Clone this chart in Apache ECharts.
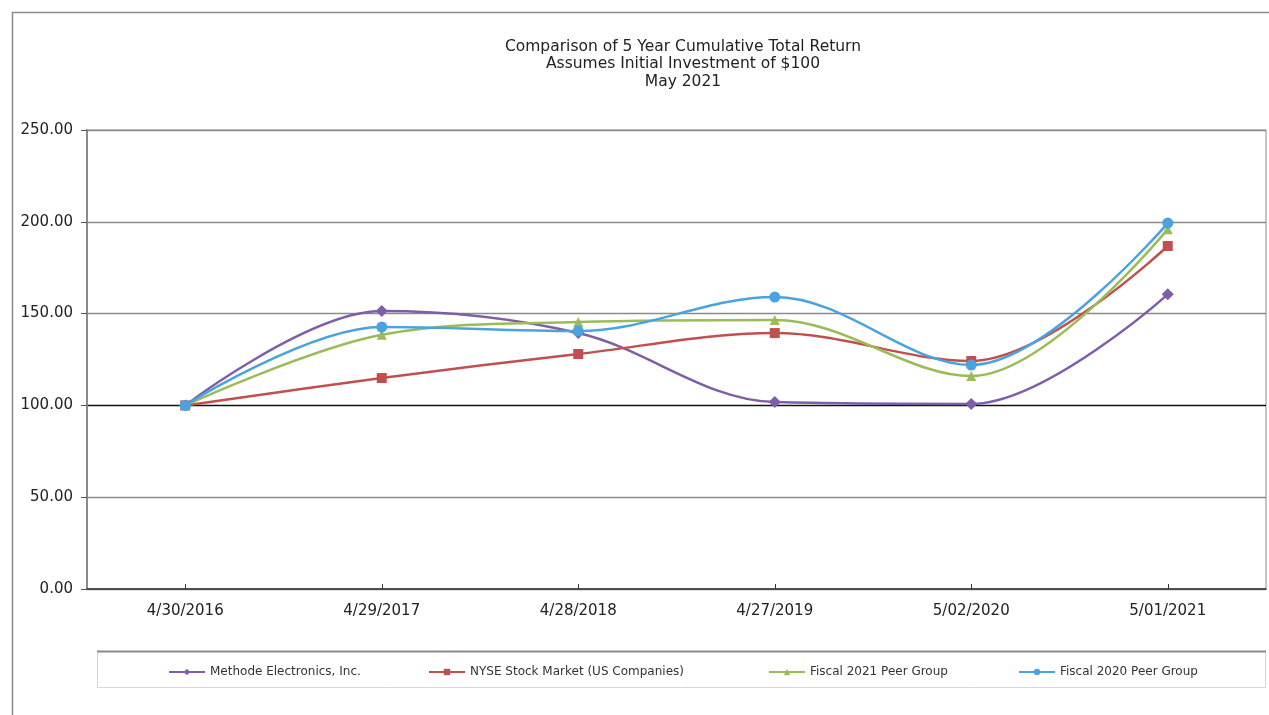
<!DOCTYPE html>
<html><head><meta charset="utf-8">
<script src="https://cdn.jsdelivr.net/npm/echarts@6/dist/echarts.min.js"></script>
<style>html,body{margin:0;padding:0;background:#fff}#c{width:1269px;height:715px}</style>
</head><body><div id="c"></div>
<script>
const categories = ['4/30/2016','4/29/2017','4/28/2018','4/27/2019','5/02/2020','5/01/2021'];
const methode = [100, 151.4, 139.4, 101.8, 100.8, 160.5];
const nyse = [100, 114.9, 128.0, 139.4, 124.2, 186.8];
const fiscal2021 = [100, 138.5, 145.4, 146.5, 116.0, 196.0];
const fiscal2020 = [100, 142.7, 140.5, 159.0, 122.0, 199.3];
const yTicks = [0, 50, 100, 150, 200, 250];
const seriesNames = ['Methode Electronics, Inc.', 'NYSE Stock Market (US Companies)', 'Fiscal 2021 Peer Group', 'Fiscal 2020 Peer Group'];
const titleLines = ['Comparison of 5 Year Cumulative Total Return', 'Assumes Initial Investment of $100', 'May 2021'];

const colors = ['#7d5ea8', '#c0504d', '#9bbb59', '#4aa3df'];
const symbols = ['diamond', 'rect', 'triangle', 'circle'];
const symSizes = [12, 10, 10, 11];
const dataSets = [methode, nyse, fiscal2021, fiscal2020];
const legendLefts = [163, 423, 763, 1013];
const FONT = 'DejaVu Sans, Arial, sans-serif';

const chart = echarts.init(document.getElementById('c'));
chart.setOption({
  animation: false,
  textStyle: { fontFamily: FONT },
  title: {
    text: titleLines.join('\n'),
    left: 678, top: 33, textAlign: 'center',
    textStyle: { fontSize: 15.5, fontWeight: 'normal', color: '#222', lineHeight: 17.5, fontFamily: FONT }
  },
  graphic: [
    { type: 'rect', shape: { x: 12.5, y: 12.5, width: 1280, height: 720 }, style: { fill: 'none', stroke: '#8a8a8a', lineWidth: 1.5 }, z: -1 },
    { type: 'rect', shape: { x: 97.5, y: 651.5, width: 1168, height: 36 }, style: { fill: 'none', stroke: '#d6d6d6', lineWidth: 1 }, z: -1 },
    { type: 'line', shape: { x1: 97, y1: 651.5, x2: 1266, y2: 651.5 }, style: { stroke: '#8a8a8a', lineWidth: 2 }, z: -1 }
  ],
  legend: seriesNames.map((n, i) => ({
    data: [n], left: legendLefts[i], top: 661,
    itemWidth: 36, itemHeight: 8,
    textStyle: { fontSize: 12, color: '#333', fontFamily: FONT }, itemGap: 2
  })),
  grid: { left: 87, right: 3, top: 130, bottom: 126, show: true, borderColor: '#8a8a8a', borderWidth: 1 },
  xAxis: {
    type: 'category', data: categories, boundaryGap: true,
    axisLine: { lineStyle: { color: '#333', width: 1.5 } },
    axisTick: { show: true, alignWithLabel: true, inside: true, length: 5, lineStyle: { color: '#333' } },
    axisLabel: { fontSize: 15, color: '#222', margin: 15, fontFamily: FONT },
    splitLine: { show: false }
  },
  yAxis: {
    type: 'value', min: yTicks[0], max: yTicks[yTicks.length - 1], interval: 50,
    axisLine: { show: true, lineStyle: { color: '#8a8a8a', width: 2 } },
    axisTick: { show: true, length: 6, lineStyle: { color: '#555' } },
    axisLabel: { fontSize: 15, color: '#222', margin: 14, fontFamily: FONT, formatter: v => v.toFixed(2) },
    splitLine: { show: true, lineStyle: { color: ['#8a8a8a', '#8a8a8a', '#111', '#8a8a8a', '#8a8a8a', '#8a8a8a'], width: 1.3 } }
  },
  series: seriesNames.map((n, i) => ({
    name: n, type: 'line', data: dataSets[i], smooth: 0.35,
    symbol: symbols[i], symbolSize: symSizes[i], showSymbol: true,
    itemStyle: { color: colors[i] },
    lineStyle: { color: colors[i], width: 2.5 },
    z: 2 + i
  }))
});
</script></body></html>
